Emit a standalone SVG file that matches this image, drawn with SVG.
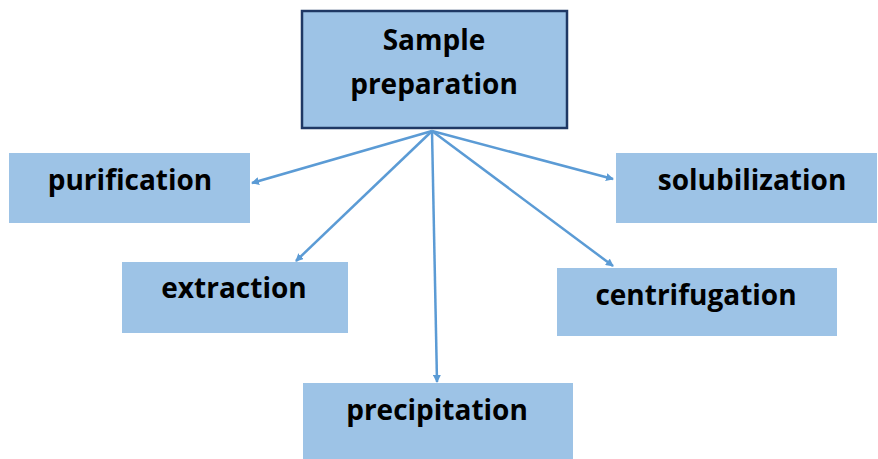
<svg xmlns="http://www.w3.org/2000/svg" width="878" height="459" viewBox="0 0 878 459">
<style>
.box{fill:#9DC3E6;}
.main{fill:#9DC3E6;stroke:#1F3864;stroke-width:2.5;}
.lbl{font-family:"Open Sans","Liberation Sans",sans-serif;font-weight:bold;font-size:28px;fill:#000;text-anchor:middle;}
.conn{stroke:#5B9BD5;stroke-width:2.5;fill:none;marker-end:url(#ah);}
</style>
<defs>
<marker id="ah" markerWidth="8" markerHeight="8" refX="7" refY="4" orient="auto" markerUnits="userSpaceOnUse">
<path d="M0,0 L8,4 L0,8 Z" fill="#5B9BD5"/>
</marker>
</defs>
<rect width="878" height="459" fill="#fff"/>
<g id="connectors">
<line class="conn" x1="432" y1="131" x2="252" y2="183"/>
<line class="conn" x1="432" y1="131" x2="296" y2="261"/>
<line class="conn" x1="432" y1="131" x2="437" y2="382"/>
<line class="conn" x1="432" y1="131" x2="613" y2="266"/>
<line class="conn" x1="432" y1="131" x2="613" y2="179"/>
</g>
<g id="sample-preparation">
<rect class="main" x="302" y="11" width="265" height="117"/>
<text class="lbl" x="434" y="50">Sample</text>
<text class="lbl" x="434" y="94">preparation</text>
</g>
<g id="purification">
<rect class="box" x="9" y="153" width="241" height="70"/>
<text class="lbl" x="130" y="190">purification</text>
</g>
<g id="extraction">
<rect class="box" x="122" y="262" width="226" height="71"/>
<text class="lbl" x="234" y="298">extraction</text>
</g>
<g id="solubilization">
<rect class="box" x="616" y="153" width="261" height="70"/>
<text class="lbl" x="752" y="190">solubilization</text>
</g>
<g id="centrifugation">
<rect class="box" x="557" y="268" width="280" height="68"/>
<text class="lbl" x="696" y="305">centrifugation</text>
</g>
<g id="precipitation">
<rect class="box" x="303" y="383" width="270" height="76"/>
<text class="lbl" x="437" y="420">precipitation</text>
</g>
</svg>
